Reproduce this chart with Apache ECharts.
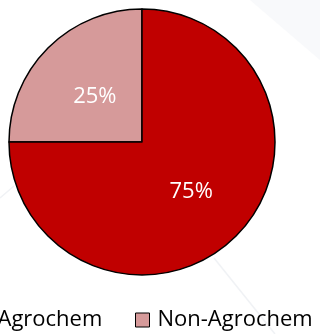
<!DOCTYPE html>
<html>
<head>
<meta charset="utf-8">
<style>
  html, body { margin: 0; padding: 0; background: #ffffff; }
  #chart { width: 320px; height: 334px; }
</style>
<script src="https://cdn.jsdelivr.net/npm/echarts@6/dist/echarts.min.js"></script>
</head>
<body>
<div id="chart"></div>
<script>
// Share of products by segment
const categories = ['Non-Agrochem', 'Agrochem'];
const shares = [25, 75];
const colors = ['#D69A9A', '#C00000'];
const legendOrder = ['Agrochem', 'Non-Agrochem'];

const chart = echarts.init(document.getElementById('chart'), null, { renderer: 'canvas' });

const FONT = '"Open Sans", sans-serif';

// one legend block per entry so neither wraps at the narrow width
const legendLeft = [-30, 130];
const legendBase = {
  top: 304,
  orient: 'horizontal',
  itemWidth: 14,
  itemHeight: 14,
  icon: 'rect',
  itemStyle: { borderColor: '#000000', borderWidth: 1 },
  textStyle: { fontFamily: FONT, fontSize: 22, color: '#000000', padding: [0, 0, 0, 3] }
};
const labelOffsets = [[2, 4], [0, 1]];

chart.setOption({
  backgroundColor: '#FFFFFF',
  animation: false,
  graphic: [
    // faint decorative backdrop shapes
    { type: 'polygon', silent: true, z: -10,
      shape: { points: [[250, 0], [320, 0], [320, 60]] },
      style: { fill: '#F8F9FB' } },
    { type: 'polyline', silent: true, z: -10,
      shape: { points: [[214, 258], [275, 334]] },
      style: { stroke: '#F0F2F5', lineWidth: 1.5 } },
    { type: 'polyline', silent: true, z: -10,
      shape: { points: [[0, 198], [14, 186]] },
      style: { stroke: '#F0F2F5', lineWidth: 1.5 } }
  ],
  legend: legendOrder.map((name, i) => Object.assign({}, legendBase, {
    data: [name],
    left: legendLeft[i]
  })),
  series: [{
    type: 'pie',
    center: [142, 142],
    radius: 133,
    startAngle: 90,
    clockwise: false,
    data: categories.map((c, i) => ({
      name: c,
      value: shares[i],
      itemStyle: { color: colors[i] },
      label: { offset: labelOffsets[i] }
    })),
    itemStyle: { borderColor: '#000000', borderWidth: 1.5 },
    label: {
      show: true,
      position: 'inner',
      formatter: '{c}%',
      color: '#FFFFFF',
      fontFamily: FONT,
      fontSize: 22
    },
    labelLine: { show: false },
    emphasis: { disabled: true }
  }]
});
</script>
</body>
</html>
